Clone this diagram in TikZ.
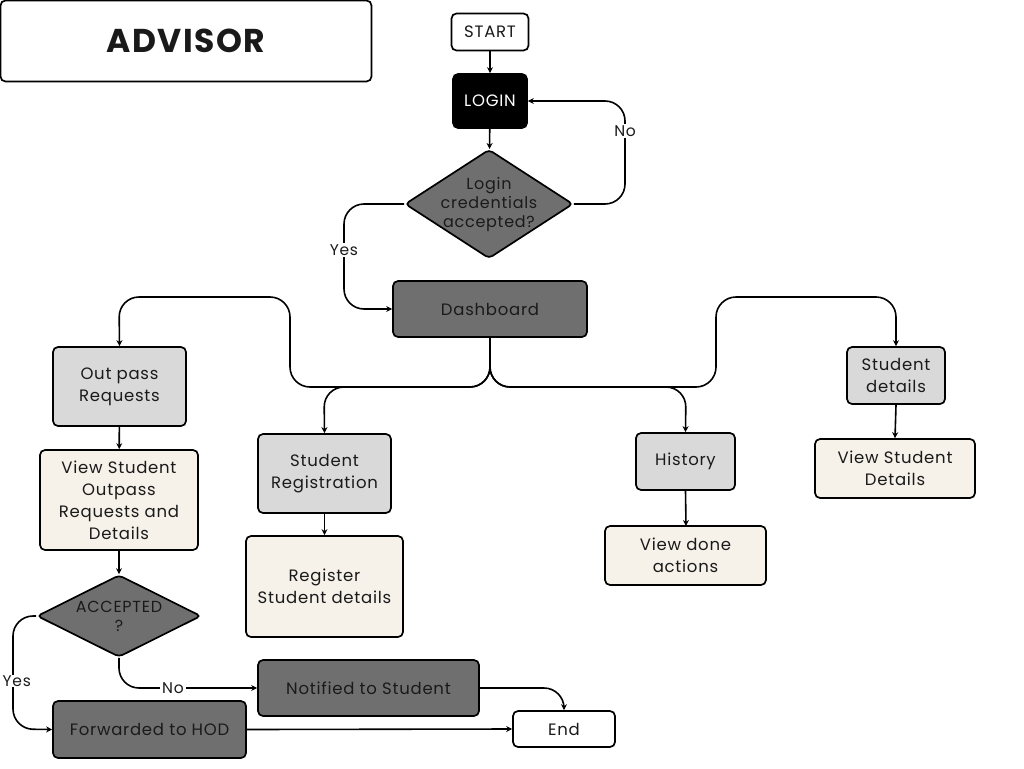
\documentclass[tikz,border=0pt]{standalone}
\usepackage{fontspec}
\setmainfont{Poppins}[LetterSpace=4.5]
\usetikzlibrary{shapes.geometric,arrows.meta}
\definecolor{darkbox}{HTML}{6F6F6F}
\definecolor{lightbox}{HTML}{D9D9D9}
\definecolor{creambox}{HTML}{F6F2EA}
\definecolor{txt}{HTML}{1A1A1A}
\tikzset{
  base/.style={draw=black, line width=1.7pt, rounded corners=5pt, inner sep=0pt, align=center, text=txt, font=\fontsize{16.5}{22}\selectfont},
  whitebox/.style={base, fill=white},
  blackbox/.style={base, fill=black, text=white},
  darkrect/.style={base, fill=darkbox},
  lightrect/.style={base, fill=lightbox},
  creamrect/.style={base, fill=creambox},
  dia/.style={draw=black, line width=1.7pt, shape=diamond, fill=darkbox, inner sep=0pt, rounded corners=4pt},
  diatext/.style={align=center, text=txt, font=\fontsize{16}{19}\selectfont, inner sep=0pt},
  conn/.style={line width=1.6pt, rounded corners=20pt, -{Stealth[length=6pt,width=6pt]}},
  lbl/.style={fill=white, inner sep=2pt, text=txt, font=\fontsize{15.5}{18}\selectfont},
}
\begin{document}
\begin{tikzpicture}[x=1pt,y=-1pt]
\useasboundingbox (0,0) rectangle (1024,768);
\fill[white] (0,0) rectangle (1024,768);

\node[whitebox, minimum width=371pt, minimum height=81pt, font=\fontsize{33}{38}\bfseries] (adv) at (186,41) {ADVISOR};

\node[whitebox, minimum width=77pt, minimum height=37pt] (start) at (490,32) {START};
\node[blackbox, minimum width=74pt, minimum height=54pt] (login) at (490,101) {LOGIN};
\node[dia, minimum width=168pt, minimum height=109pt] (cred) at (489,204) {};
\node[diatext] (credt) at (cred.center) {Login\\credentials\\accepted?};
\node[darkrect, minimum width=194pt, minimum height=56pt] (dash) at (490,309) {Dashboard};

\node[lightrect, minimum width=133pt, minimum height=79pt] (outpass) at (119.5,386.5) {Out pass\\Requests};
\node[creamrect, minimum width=158pt, minimum height=100pt] (viewout) at (119,500) {View Student\\Outpass\\Requests and\\Details};
\node[dia, minimum width=164pt, minimum height=82pt] (acc) at (119,616) {};
\node[diatext] (acct) at (119,616) {ACCEPTED\\?};
\node[darkrect, minimum width=193pt, minimum height=57pt] (fwd) at (149.5,729.5) {Forwarded to HOD};
\node[darkrect, minimum width=221pt, minimum height=56pt] (notif) at (368.5,688) {Notified to Student};
\node[whitebox, minimum width=102pt, minimum height=36pt] (end) at (564,729) {End};

\node[lightrect, minimum width=133pt, minimum height=79pt] (sreg) at (324.5,473.5) {Student\\Registration};
\node[creamrect, minimum width=157pt, minimum height=101pt] (reg) at (324.5,586.5) {Register\\Student details};

\node[lightrect, minimum width=99pt, minimum height=57pt] (hist) at (685.5,461.5) {History};
\node[creamrect, minimum width=161pt, minimum height=59pt] (done) at (685.5,555.5) {View done\\actions};

\node[lightrect, minimum width=98pt, minimum height=57pt] (sdet) at (896,375.5) {Student\\details};
\node[creamrect, minimum width=160pt, minimum height=59pt] (vsd) at (895,468.5) {View Student\\Details};

% connectors
\draw[conn] (start) -- (login);
\draw[conn] (login) -- (cred);
\draw[conn] (cred.east) -- (625,204) -- (625,101) -- (login.east);
\node[lbl] (no1) at (625,131) {No};
\draw[conn] (cred.west) -- (344,204) -- (344,309) -- (dash.west);
\node[lbl] (yes1) at (344,250) {Yes};

\draw[conn] (dash.south) -- (490,387) -- (290,387) -- (290,297) -- (119,297) -- (outpass.north);
\draw[conn] (dash.south) -- (490,387) -- (324,387) -- (sreg.north);
\draw[conn] (dash.south) -- (490,387) -- (686,387) -- (hist.north);
\draw[conn] (dash.south) -- (490,387) -- (716,387) -- (716,297) -- (896,297) -- (sdet.north);

\draw[conn] (outpass) -- (viewout);
\draw[conn] (viewout) -- (acc.north);
\draw[conn] (sreg) -- (reg);
\draw[conn] (hist.south) -- (686,526);
\draw[conn] (sdet.south) -- (vsd.north);

\draw[conn] (acc.west) -- (13,616) -- (13,729) -- (fwd.west);
\node[lbl, inner sep=1pt, anchor=west] (yes2) at (1.5,681) {Yes};
\draw[conn] (acc.south) -- (119,688) -- (notif.west);
\node[lbl] (no2) at (173,688) {No};
\draw[conn] (notif.east) -- (564,688) -- (end.north);
\draw[conn] (fwd.east) -- (end.west);
\end{tikzpicture}
\end{document}
